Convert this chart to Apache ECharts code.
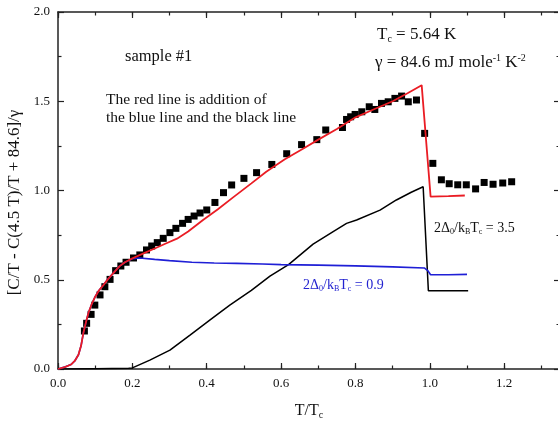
<!DOCTYPE html>
<html>
<head>
<meta charset="utf-8">
<script src="https://cdn.jsdelivr.net/npm/echarts@6/dist/echarts.min.js"></script>
<style>html,body{margin:0;padding:0;background:#fff}#c{width:558px;height:423px}</style>
</head>
<body>
<div id="c"></div>
<script>
// ---- data ----
var sampleT = [0.071,0.077,0.089,0.099,0.113,0.126,0.14,0.155,0.169,0.183,0.203,0.22,0.238,0.252,0.267,0.283,0.301,0.317,0.335,0.35,0.366,0.382,0.4,0.422,0.445,0.467,0.5,0.534,0.575,0.615,0.655,0.696,0.72,0.765,0.776,0.787,0.799,0.817,0.837,0.852,0.87,0.888,0.906,0.924,0.942,0.964,0.986,1.008,1.031,1.052,1.075,1.098,1.123,1.146,1.17,1.196,1.22];
var sampleC = [0.213,0.256,0.306,0.358,0.415,0.461,0.502,0.551,0.577,0.598,0.622,0.639,0.667,0.689,0.708,0.732,0.764,0.788,0.816,0.838,0.857,0.874,0.891,0.933,0.988,1.031,1.068,1.1,1.146,1.206,1.257,1.285,1.339,1.353,1.398,1.413,1.426,1.441,1.469,1.454,1.488,1.497,1.516,1.529,1.497,1.507,1.32,1.152,1.06,1.038,1.032,1.032,1.009,1.045,1.035,1.042,1.049];

var redT = [0,0.005,0.02,0.035,0.045,0.055,0.062,0.068,0.075,0.082,0.09,0.1,0.11,0.122,0.135,0.15,0.165,0.18,0.2,0.23,0.26,0.29,0.32,0.35,0.39,0.43,0.47,0.52,0.56,0.61,0.66,0.7,0.75,0.8,0.85,0.9,0.94,0.978,1.002,1.05,1.094];
var redC = [0,0.005,0.012,0.025,0.045,0.08,0.13,0.2,0.26,0.315,0.36,0.405,0.44,0.47,0.505,0.54,0.575,0.598,0.62,0.648,0.675,0.703,0.73,0.77,0.835,0.895,0.96,1.04,1.105,1.175,1.235,1.285,1.345,1.41,1.455,1.5,1.545,1.59,0.966,0.968,0.972];

var blueT = [0,0.005,0.02,0.035,0.045,0.055,0.062,0.068,0.075,0.082,0.09,0.1,0.11,0.122,0.135,0.15,0.165,0.18,0.2,0.22,0.26,0.3,0.36,0.42,0.48,0.55,0.6,0.7,0.8,0.9,0.985,0.995,1.002,1.05,1.1];
var blueC = [0,0.005,0.012,0.025,0.045,0.08,0.13,0.2,0.26,0.315,0.36,0.405,0.44,0.47,0.505,0.54,0.575,0.598,0.618,0.622,0.614,0.607,0.598,0.594,0.592,0.588,0.585,0.582,0.578,0.572,0.566,0.55,0.528,0.528,0.53];

var blackT = [0,0.1,0.19,0.2,0.247,0.301,0.355,0.409,0.462,0.52,0.57,0.62,0.686,0.74,0.776,0.803,0.866,0.91,0.95,0.982,0.996,1.05,1.103];
var blackC = [0,0.002,0.004,0.006,0.05,0.106,0.19,0.275,0.358,0.44,0.52,0.585,0.7,0.77,0.816,0.835,0.89,0.947,0.99,1.021,0.439,0.439,0.439];

var xTickMajor = 0.2, xTickMinor = 0.1, yTickMajor = 0.5, yTickMinor = 0.25;
var xMin = 0, xMax = 1.35, yMin = 0, yMax = 2.0;

function pairs(a, b) { return a.map(function (v, i) { return [v, b[i]]; }); }

var SERIF = '"Liberation Serif","DejaVu Serif",serif';
var AX = '#222';

function rich(size, color) {
  return {
    n: { fontSize: size, fontFamily: SERIF, color: color },
    sub: { fontSize: Math.round(size * 0.6), fontFamily: SERIF, color: color, padding: [Math.round(size * 0.55), 0, 0, 0] },
    sup: { fontSize: Math.round(size * 0.6), fontFamily: SERIF, color: color, padding: [0, 0, Math.round(size * 0.55), 0] }
  };
}

function txt(x, y, text, size, color) {
  return {
    type: 'text', x: x, y: y, z: 100,
    style: { text: text, fill: color, fontSize: size, fontFamily: SERIF, align: 'left', verticalAlign: 'middle', rich: rich(size, color) }
  };
}

var mainX = function (pos, labels) {
  return {
    gridIndex: 0, type: 'value', position: pos, min: xMin, max: xMax, interval: xTickMajor,
    axisLine: { show: true, onZero: false, lineStyle: { color: AX, width: 1.5 } },
    axisTick: { show: true, inside: true, length: 6, lineStyle: { color: AX, width: 1.2 } },
    axisLabel: { show: labels, margin: 8, showMaxLabel: false, color: '#111', fontSize: 13, fontFamily: SERIF,
      formatter: function (v) { return v.toFixed(1); } },
    splitLine: { show: false }
  };
};
var minorX = function (pos) {
  return {
    gridIndex: 1, type: 'value', position: pos, min: xMin, max: xMax, interval: xTickMinor,
    axisLine: { show: false, onZero: false },
    axisTick: { show: true, inside: true, length: 3.5, lineStyle: { color: AX, width: 1.2 } },
    axisLabel: { show: false }, splitLine: { show: false }
  };
};
var mainY = function (pos, labels) {
  return {
    gridIndex: 0, type: 'value', position: pos, min: yMin, max: yMax, interval: yTickMajor,
    axisLine: { show: true, onZero: false, lineStyle: { color: AX, width: 1.5 } },
    axisTick: { show: true, inside: true, length: 6, lineStyle: { color: AX, width: 1.2 } },
    minorTick: { show: true, splitNumber: 2, length: 3.5, lineStyle: { color: AX, width: 1.2 } },
    axisLabel: { show: labels, margin: 8, color: '#111', fontSize: 13, fontFamily: SERIF,
      formatter: function (v) { return v.toFixed(1); } },
    splitLine: { show: false }, minorSplitLine: { show: false }
  };
};

var xa0 = mainX('bottom', true);
xa0.name = '{n|T/T}{sub|c}';
xa0.nameLocation = 'middle';
xa0.nameGap = 32;
xa0.nameTextStyle = { rich: rich(16, '#111') };
var ya0 = mainY('left', true);
ya0.name = '[C/T - C(4.5 T)/T + 84.6]/γ';
ya0.nameLocation = 'middle';
ya0.nameGap = 32;
ya0.nameTextStyle = { fontSize: 17, fontFamily: SERIF, color: '#111', padding: [0, 24, 0, 0] };

var option = {
  animation: false,
  backgroundColor: '#fff',
  grid: [
    { left: 58, right: -2, top: 12, bottom: 54, containLabel: false, outerBoundsMode: 'none' },
    { left: 58, right: -2, top: 12, bottom: 54, containLabel: false, outerBoundsMode: 'none' }
  ],
  xAxis: [xa0, mainX('top', false), minorX('bottom'), minorX('top')],
  yAxis: [ya0, mainY('right', false), { gridIndex: 1, type: 'value', min: yMin, max: yMax, show: false }],
  series: [
    { type: 'scatter', xAxisIndex: 0, yAxisIndex: 0, symbol: 'rect', symbolSize: 7, itemStyle: { color: '#000', opacity: 1 }, data: pairs(sampleT, sampleC), z: 2 },
    { type: 'line', xAxisIndex: 0, yAxisIndex: 0, showSymbol: false, symbol: 'none', lineStyle: { color: '#000', width: 1.5 }, data: pairs(blackT, blackC), z: 3 },
    { type: 'line', xAxisIndex: 0, yAxisIndex: 0, showSymbol: false, symbol: 'none', lineStyle: { color: '#1f1fd6', width: 1.6 }, data: pairs(blueT, blueC), z: 4 },
    { type: 'line', xAxisIndex: 0, yAxisIndex: 0, showSymbol: false, symbol: 'none', lineStyle: { color: '#ea1c24', width: 1.8 }, data: pairs(redT, redC), z: 5 }
  ],
  graphic: [
    txt(125, 57, '{n|sample #1}', 16.5, '#111'),
    txt(106, 100, '{n|The red line is addition of}', 15.5, '#111'),
    txt(106, 118, '{n|the blue line and the black line}', 15.5, '#111'),
    txt(377, 35, '{n|T}{sub|c}{n| = 5.64 K}', 17, '#111'),
    txt(375, 63, '{n|γ = 84.6 mJ mole}{sup|-1}{n| K}{sup|-2}', 17, '#111'),
    txt(434, 228, '{n|2Δ}{sub|0}{n|/k}{sub|B}{n|T}{sub|c}{n| = 3.5}', 14, '#111'),
    txt(303, 285, '{n|2Δ}{sub|0}{n|/k}{sub|B}{n|T}{sub|c}{n| = 0.9}', 14, '#2323d0')
  ]
};

var chart = echarts.init(document.getElementById('c'), null, { renderer: 'canvas' });
chart.setOption(option);
</script>
</body>
</html>
